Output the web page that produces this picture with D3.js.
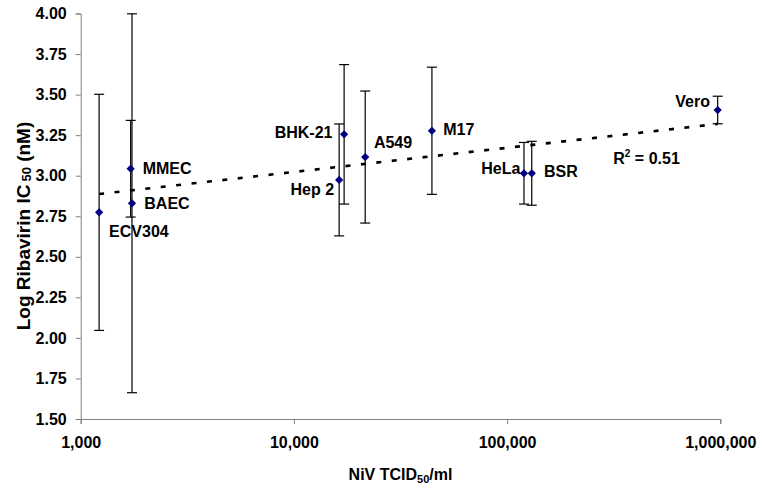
<!DOCTYPE html>
<html><head><meta charset="utf-8">
<script src="https://cdn.jsdelivr.net/npm/d3@7/dist/d3.min.js"></script>
<style>
html,body{margin:0;padding:0;background:#fff;}
text{font-family:"Liberation Sans",Arial,sans-serif;font-weight:bold;fill:#000;}
</style></head>
<body><svg id="c" width="762" height="488"></svg>
<script>
// ---- data ----
const cells   = ["ECV304","MMEC","BAEC","BHK-21","Hep 2","A549","M17","HeLa","BSR","Vero"];
const tcid50  = [1220, 1715, 1740, 17200, 16300, 21600, 44400, 120000, 130500, 972000];
const logIC50 = [2.774, 3.043, 2.830, 3.255, 2.974, 3.115, 3.277, 3.015, 3.015, 3.405];
const errIC50 = [0.728, 0.298, 1.168, 0.430, 0.345, 0.407, 0.392, 0.190, 0.197, 0.085];
const xTicks  = [1000, 10000, 100000, 1000000];
const yTicks  = [1.50, 1.75, 2.00, 2.25, 2.50, 2.75, 3.00, 3.25, 3.50, 3.75, 4.00];
const r2Label = "0.51";

// ---- layout (label offsets from point, px) ----
const labelPos = {
  "ECV304":[10,24.4,"start"], "MMEC":[12,5.3,"start"], "BAEC":[12.3,5.7,"start"],
  "BHK-21":[-11.6,4,"end"], "Hep 2":[-5,15,"end"], "A549":[8.7,-9.3,"start"],
  "M17":[11.3,4.3,"start"], "HeLa":[-3.6,1,"end"], "BSR":[12.3,3.4,"start"],
  "Vero":[-7.7,-3.3,"end"]
};

const svg = d3.select("#c");
const x = d3.scaleLog().domain([1000, 1000000]).range([80.7, 720.3]);
const y = d3.scaleLinear().domain([1.5, 4.0]).range([419, 13.5]);
const data = cells.map((c,i)=>({c, x:tcid50[i], y:logIC50[i], e:errIC50[i]}));

// axes
const fmt = d3.format(",");
const gx = svg.append("g").attr("transform","translate(0,419)")
  .call(d3.axisBottom(x).tickValues(xTicks).tickFormat(fmt).tickSizeOuter(0).tickSize(5).tickPadding(13));
const gy = svg.append("g").attr("transform","translate(80.7,0)")
  .call(d3.axisLeft(y).tickValues(yTicks).tickFormat(d3.format(".2f")).tickSizeOuter(0).tickSize(5).tickPadding(9));
[gx,gy].forEach(g=>{
  g.select(".domain").attr("stroke","#808080");
  g.selectAll(".tick line").attr("stroke","#808080");
  g.selectAll(".tick text").attr("font-size",16).attr("font-weight","bold")
   .attr("font-family","Liberation Sans, Arial, sans-serif").attr("fill","#000");
});

// trendline (least squares on log10 x)
const lx = data.map(d=>Math.log10(d.x)), ly = data.map(d=>d.y);
const mx = d3.mean(lx), my = d3.mean(ly);
const sxy = d3.sum(lx.map((v,i)=>(v-mx)*(ly[i]-my)));
const sxx = d3.sum(lx.map(v=>(v-mx)*(v-mx)));
const slope = sxy/sxx, icpt = my - slope*mx;
const ext = d3.extent(lx);
const trend = ext.map(l=>({x:Math.pow(10,l), y:icpt+slope*l}));
svg.append("path").datum(trend)
  .attr("d", d3.line().x(d=>x(d.x)).y(d=>y(d.y)))
  .attr("fill","none").attr("stroke","#000").attr("stroke-width",2.6)
  .attr("stroke-dasharray","5,10.5");

// error bars
const eb = svg.append("g").attr("stroke","#000").attr("stroke-width",1.2);
data.forEach(d=>{
  const cx = x(d.x), t = y(d.y+d.e), b = y(d.y-d.e);
  eb.append("line").attr("x1",cx).attr("x2",cx).attr("y1",t).attr("y2",b);
  eb.append("line").attr("x1",cx-5).attr("x2",cx+5).attr("y1",t).attr("y2",t);
  eb.append("line").attr("x1",cx-5).attr("x2",cx+5).attr("y1",b).attr("y2",b);
});

// points
svg.append("g").selectAll("path").data(data).join("path")
  .attr("d", d3.symbol(d3.symbolSquare, 34))
  .attr("transform", d=>`translate(${x(d.x)},${y(d.y)}) rotate(45)`)
  .attr("fill","#000080");

// point labels
svg.append("g").selectAll("text").data(data).join("text")
  .attr("x", d=>x(d.x)+labelPos[d.c][0])
  .attr("y", d=>y(d.y)+labelPos[d.c][1])
  .attr("text-anchor", d=>labelPos[d.c][2])
  .attr("font-size",16).text(d=>d.c);

// R^2 label
const r2 = svg.append("text").attr("x",613.3).attr("y",164).attr("font-size",16);
r2.append("tspan").text("R");
r2.append("tspan").attr("font-size",10).attr("dy",-7).text("2");
r2.append("tspan").attr("dy",7).text(" = " + r2Label);

// axis titles
const xt = svg.append("text").attr("x",400.5).attr("y",480).attr("text-anchor","middle").attr("font-size",16);
xt.append("tspan").text("NiV TCID");
xt.append("tspan").attr("font-size",11).attr("dy",3).text("50");
xt.append("tspan").attr("dy",-3).text("/ml");

const yt = svg.append("text").attr("transform","translate(30,226) rotate(-90)")
  .attr("text-anchor","middle").attr("font-size",19);
yt.append("tspan").text("Log Ribavirin IC");
yt.append("tspan").attr("font-size",13).attr("dx",3).attr("dy",1).text("50");
yt.append("tspan").attr("dy",-1).text(" (nM)");
</script>
</body></html>
